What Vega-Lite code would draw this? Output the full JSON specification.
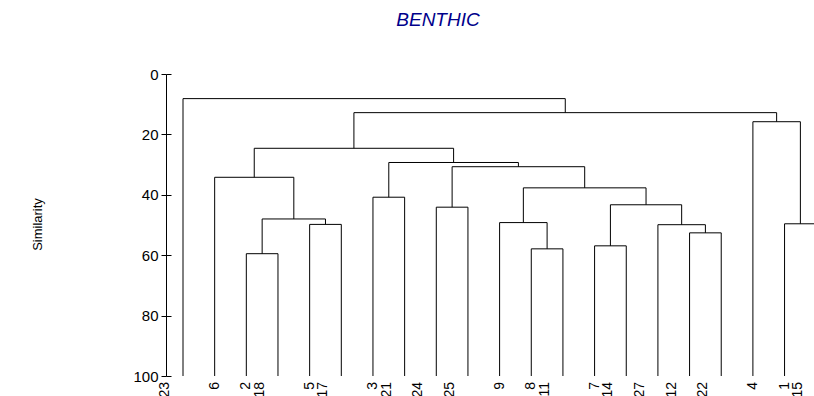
{
  "$schema": "https://vega.github.io/schema/vega-lite/v6.json",
  "width": 648,
  "height": 302,
  "autosize": {"type": "none"},
  "padding": {"left": 166, "top": 74, "right": 0, "bottom": 20},
  "background": "white",
  "title": {
    "text": "BENTHIC",
    "font": "Liberation Sans",
    "fontSize": 19,
    "fontStyle": "italic",
    "fontWeight": "normal",
    "color": "#00008B",
    "anchor": "middle",
    "dx": -52,
    "offset": 22,
    "baseline": "alphabetic"
  },
  "config": {"view": {"stroke": null}},
  "datasets": {
    "verticals": [
      {"node": "23", "x": 1, "from": 100, "to": 8.15},
      {"node": "6", "x": 2, "from": 100, "to": 34.2},
      {"node": "2", "x": 3, "from": 100, "to": 59.5},
      {"node": "18", "x": 4, "from": 100, "to": 59.5},
      {"node": "5", "x": 5, "from": 100, "to": 49.8},
      {"node": "17", "x": 6, "from": 100, "to": 49.8},
      {"node": "3", "x": 7, "from": 100, "to": 40.8},
      {"node": "21", "x": 8, "from": 100, "to": 40.8},
      {"node": "24", "x": 9, "from": 100, "to": 44.1},
      {"node": "25", "x": 10, "from": 100, "to": 44.1},
      {"node": "9", "x": 11, "from": 100, "to": 49.2},
      {"node": "8", "x": 12, "from": 100, "to": 57.9},
      {"node": "11", "x": 13, "from": 100, "to": 57.9},
      {"node": "7", "x": 14, "from": 100, "to": 56.9},
      {"node": "14", "x": 15, "from": 100, "to": 56.9},
      {"node": "27", "x": 16, "from": 100, "to": 49.9},
      {"node": "12", "x": 17, "from": 100, "to": 52.6},
      {"node": "22", "x": 18, "from": 100, "to": 52.6},
      {"node": "4", "x": 19, "from": 100, "to": 15.8},
      {"node": "1", "x": 20, "from": 100, "to": 49.6},
      {"node": "15", "x": 21, "from": 100, "to": 49.6},
      {"node": "A", "x": 3.5, "from": 59.5, "to": 48},
      {"node": "B", "x": 5.5, "from": 49.8, "to": 48},
      {"node": "C", "x": 4.5, "from": 48, "to": 34.2},
      {"node": "D", "x": 3.25, "from": 34.2, "to": 24.6},
      {"node": "E", "x": 7.5, "from": 40.8, "to": 29.3},
      {"node": "F", "x": 9.5, "from": 44.1, "to": 30.7},
      {"node": "G", "x": 12.5, "from": 57.9, "to": 49.2},
      {"node": "H", "x": 11.75, "from": 49.2, "to": 37.7},
      {"node": "I", "x": 14.5, "from": 56.9, "to": 43.3},
      {"node": "J", "x": 17.5, "from": 52.6, "to": 49.9},
      {"node": "K", "x": 16.75, "from": 49.9, "to": 43.3},
      {"node": "L", "x": 15.625, "from": 43.3, "to": 37.7},
      {"node": "M", "x": 13.6875, "from": 37.7, "to": 30.7},
      {"node": "N", "x": 11.59375, "from": 30.7, "to": 29.3},
      {"node": "O", "x": 9.546875, "from": 29.3, "to": 24.6},
      {"node": "P", "x": 6.3984375, "from": 24.6, "to": 12.8},
      {"node": "Q", "x": 20.5, "from": 49.6, "to": 15.8},
      {"node": "R", "x": 19.75, "from": 15.8, "to": 12.8},
      {"node": "S", "x": 13.07421875, "from": 12.8, "to": 8.15}
    ],
    "merges": [
      {"node": "A", "left": 3, "right": 4, "height": 59.5},
      {"node": "B", "left": 5, "right": 6, "height": 49.8},
      {"node": "C", "left": 3.5, "right": 5.5, "height": 48},
      {"node": "D", "left": 2, "right": 4.5, "height": 34.2},
      {"node": "E", "left": 7, "right": 8, "height": 40.8},
      {"node": "F", "left": 9, "right": 10, "height": 44.1},
      {"node": "G", "left": 12, "right": 13, "height": 57.9},
      {"node": "H", "left": 11, "right": 12.5, "height": 49.2},
      {"node": "I", "left": 14, "right": 15, "height": 56.9},
      {"node": "J", "left": 17, "right": 18, "height": 52.6},
      {"node": "K", "left": 16, "right": 17.5, "height": 49.9},
      {"node": "L", "left": 14.5, "right": 16.75, "height": 43.3},
      {"node": "M", "left": 11.75, "right": 15.625, "height": 37.7},
      {"node": "N", "left": 9.5, "right": 13.6875, "height": 30.7},
      {"node": "O", "left": 7.5, "right": 11.59375, "height": 29.3},
      {"node": "P", "left": 3.25, "right": 9.546875, "height": 24.6},
      {"node": "Q", "left": 20, "right": 21, "height": 49.6},
      {"node": "R", "left": 19, "right": 20.5, "height": 15.8},
      {"node": "S", "left": 6.3984375, "right": 19.75, "height": 12.8},
      {"node": "T", "left": 1, "right": 13.07421875, "height": 8.15}
    ],
    "leaves": [
      {"label": "23", "x": 1},
      {"label": "6", "x": 2},
      {"label": "2", "x": 3},
      {"label": "18", "x": 4},
      {"label": "5", "x": 5},
      {"label": "17", "x": 6},
      {"label": "3", "x": 7},
      {"label": "21", "x": 8},
      {"label": "24", "x": 9},
      {"label": "25", "x": 10},
      {"label": "9", "x": 11},
      {"label": "8", "x": 12},
      {"label": "11", "x": 13},
      {"label": "7", "x": 14},
      {"label": "14", "x": 15},
      {"label": "27", "x": 16},
      {"label": "12", "x": 17},
      {"label": "22", "x": 18},
      {"label": "4", "x": 19},
      {"label": "1", "x": 20},
      {"label": "15", "x": 21}
    ]
  },
  "layer": [
    {
      "data": {"name": "verticals"},
      "mark": {"type": "rule", "color": "black", "strokeWidth": 1, "clip": true},
      "encoding": {
        "x": {"field": "x", "type": "quantitative", "scale": {"domain": [0.463, 20.93], "nice": false, "zero": false}, "axis": null},
        "y": {
          "field": "from", "type": "quantitative",
          "scale": {"domain": [0, 100], "reverse": true, "nice": false, "zero": false},
          "axis": {
            "orient": "left",
            "values": [0, 20, 40, 60, 80, 100],
            "grid": false,
            "domainColor": "black",
            "domainWidth": 1,
            "tickColor": "black",
            "tickSize": 5,
            "tickWidth": 1,
            "labelFont": "Liberation Sans",
            "labelFontSize": 15,
            "labelColor": "black",
            "labelPadding": 3,
            "title": "Similarity",
            "titleFont": "Liberation Sans",
            "titleFontSize": 13,
            "titleFontWeight": "normal",
            "titleColor": "black",
            "titleAngle": 270,
            "titleX": -129,
            "titleY": 150,
            "titleAlign": "center",
            "titleBaseline": "middle"
          }
        },
        "y2": {"field": "to"}
      }
    },
    {
      "data": {"name": "merges"},
      "mark": {"type": "rule", "color": "black", "strokeWidth": 1, "clip": true},
      "encoding": {
        "x": {"field": "left", "type": "quantitative", "scale": {"domain": [0.463, 20.93], "nice": false, "zero": false}, "axis": null},
        "x2": {"field": "right"},
        "y": {
          "field": "height", "type": "quantitative",
          "scale": {"domain": [0, 100], "reverse": true, "nice": false, "zero": false},
          "axis": {
            "orient": "left",
            "values": [0, 20, 40, 60, 80, 100],
            "grid": false,
            "domain": false,
            "labels": false,
            "title": null,
            "tickColor": "black",
            "tickSize": -5,
            "tickWidth": 1
          }
        }
      }
    },
    {
      "data": {"name": "leaves"},
      "transform": [{"filter": "length(datum.label) == 1"}],
      "mark": {"type": "text", "angle": 270, "align": "right", "baseline": "middle", "dx": -6, "font": "Liberation Sans", "fontSize": 14, "color": "black"},
      "encoding": {
        "x": {"field": "x", "type": "quantitative", "scale": {"domain": [0.463, 20.93], "nice": false, "zero": false}, "axis": null},
        "y": {"datum": 100, "type": "quantitative", "scale": {"domain": [0, 100], "reverse": true, "nice": false, "zero": false}, "axis": null},
        "text": {"field": "label", "type": "nominal"}
      }
    },
    {
      "data": {"name": "leaves"},
      "transform": [{"filter": "length(datum.label) > 1"}],
      "mark": {"type": "text", "angle": 270, "align": "right", "baseline": "middle", "dx": -6, "dy": -18, "font": "Liberation Sans", "fontSize": 14, "color": "black"},
      "encoding": {
        "x": {"field": "x", "type": "quantitative", "scale": {"domain": [0.463, 20.93], "nice": false, "zero": false}, "axis": null},
        "y": {"datum": 100, "type": "quantitative", "scale": {"domain": [0, 100], "reverse": true, "nice": false, "zero": false}, "axis": null},
        "text": {"field": "label", "type": "nominal"}
      }
    }
  ],
  "resolve": {"scale": {"y": "independent"}, "axis": {"y": "independent"}}
}
